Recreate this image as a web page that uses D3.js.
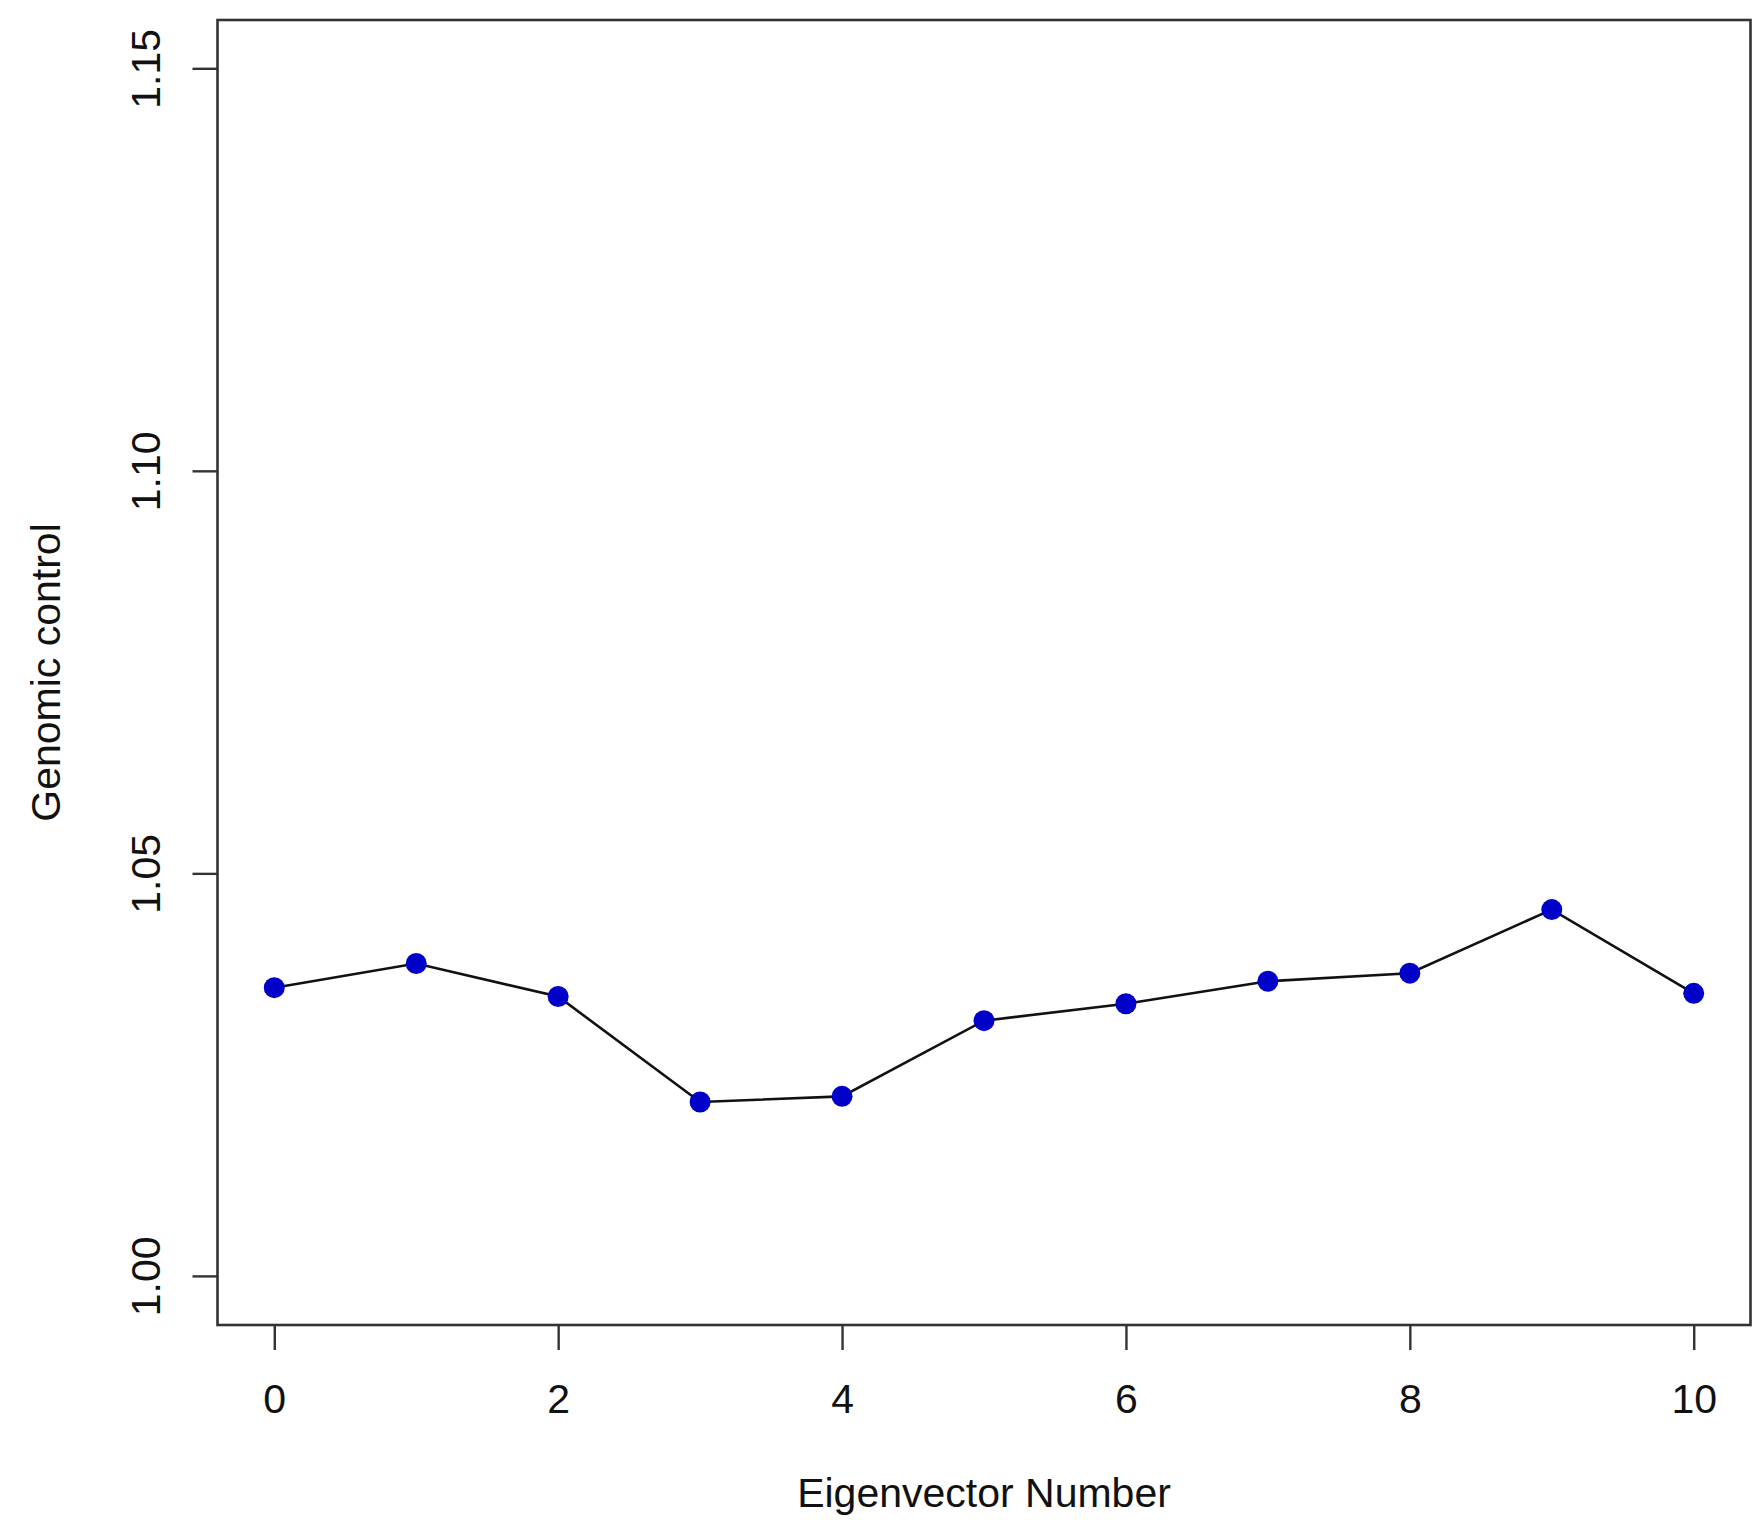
<!DOCTYPE html>
<html>
<head>
<meta charset="utf-8">
<script src="https://cdn.jsdelivr.net/npm/d3@7"></script>
<style>
  html, body { margin: 0; padding: 0; background: #fff; }
  svg { display: block; }
  text { font-family: "Liberation Sans", Arial, Helvetica, sans-serif; fill: #111; }
</style>
</head>
<body>
<svg id="chart" width="1752" height="1520"></svg>
<script>
// Data
const eigenvectors = [0, 1, 2, 3, 4, 5, 6, 7, 8, 9, 10];
const genomicControl = [1.0358, 1.0388, 1.0347, 1.0216, 1.0223, 1.0317, 1.0338, 1.0366, 1.0376, 1.0455, 1.0351];
const xTicks = [0, 2, 4, 6, 8, 10];
const yTicks = [1.00, 1.05, 1.10, 1.15];
const xTitle = "Eigenvector Number";
const yTitle = "Genomic control";

const svg = d3.select("#chart");
const box = { left: 217.5, right: 1750.5, top: 20, bottom: 1325 };

const x = d3.scaleLinear().domain([-0.4, 10.4]).range([box.left, box.right]);
const y = d3.scaleLinear().domain([0.9939, 1.156]).range([box.bottom, box.top]);

// Axes
const xAxis = d3.axisBottom(x).tickValues(xTicks).tickSize(25).tickPadding(0).tickFormat(d3.format("d"));
const gx = svg.append("g").attr("transform", `translate(0,${box.bottom})`).call(xAxis);
gx.select(".domain").remove();
gx.selectAll(".tick line").attr("stroke", "#333").attr("stroke-width", 2.4);
gx.selectAll(".tick text").attr("font-size", 41).attr("y", 88).attr("dy", 0)
  .style("font-family", '"Liberation Sans", Arial, sans-serif').attr("fill", "#111");

const yAxis = d3.axisLeft(y).tickValues(yTicks).tickSize(25).tickFormat(d3.format(".2f"));
const gy = svg.append("g").attr("transform", `translate(${box.left},0)`).call(yAxis);
gy.select(".domain").remove();
gy.selectAll(".tick line").attr("stroke", "#333").attr("stroke-width", 2.4);
gy.selectAll(".tick text")
  .attr("x", null).attr("dy", 0).attr("y", 0)
  .attr("text-anchor", "middle")
  .attr("transform", "translate(-58,0) rotate(-90)")
  .attr("font-size", 41)
  .style("font-family", '"Liberation Sans", Arial, sans-serif').attr("fill", "#111");

// Plot box
svg.append("rect")
  .attr("x", box.left).attr("y", box.top)
  .attr("width", box.right - box.left).attr("height", box.bottom - box.top)
  .attr("fill", "none").attr("stroke", "#333").attr("stroke-width", 2.6);

// Line
const data = eigenvectors.map((e, i) => ({ e, v: genomicControl[i] }));
svg.append("path")
  .datum(data)
  .attr("fill", "none")
  .attr("stroke", "#111")
  .attr("stroke-width", 2.6)
  .attr("d", d3.line().x(d => x(d.e)).y(d => y(d.v)));

// Points
svg.append("g").selectAll("circle")
  .data(data).join("circle")
  .attr("cx", d => x(d.e)).attr("cy", d => y(d.v))
  .attr("r", 10.5).attr("fill", "#0000c8");

// Titles
svg.append("text")
  .attr("x", (box.left + box.right) / 2).attr("y", 1507)
  .attr("text-anchor", "middle").attr("font-size", 41)
  .text(xTitle);

svg.append("text")
  .attr("transform", `translate(60,${(box.top + box.bottom) / 2}) rotate(-90)`)
  .attr("text-anchor", "middle").attr("font-size", 41)
  .text(yTitle);
</script>
</body>
</html>
